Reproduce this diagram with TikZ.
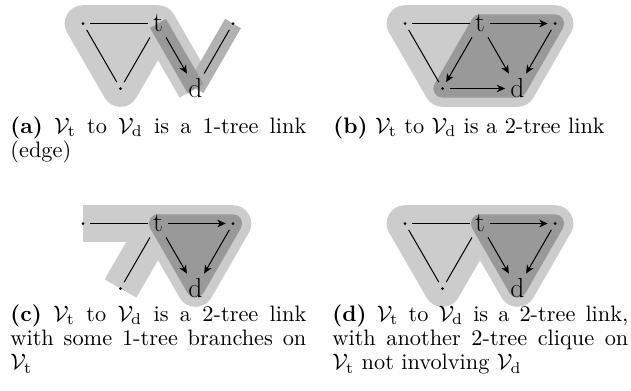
\documentclass[tikz,border=0pt]{standalone}
\usepackage{amsmath,amssymb}
\usepackage{tikz}
\usetikzlibrary{arrows.meta,backgrounds}

\tikzset{
  vdot/.style={circle, inner sep=0pt, minimum size=8.4pt,
    path picture={\fill (path picture bounding box.center) circle (0.9pt);}},
  vname/.style={inner sep=3pt, font=\fontsize{16.5}{20}\selectfont},
  undir/.style={draw, line width=0.6pt},
  dir/.style={undir, -{Stealth[length=5pt,width=4.5pt,inset=1.5pt]}},
  hull/.style={fill=black!20, draw=black!20, line width=22pt, line join=round},
  core/.style={fill=black!40, draw=black!40, line width=11pt, line join=round},
  band/.style={draw=black!20, line width=22pt},
  link/.style={draw=black!40, line width=11pt},
  branch/.style={draw=black!30, line width=11pt},
  capt/.style={anchor=base west, inner sep=0pt, scale=1.34, transform shape,
    text width=132.5pt, align=justify, font=\fontsize{10}{10.8}\selectfont}
}

\begin{document}
\begin{tikzpicture}[x=0.6pt, y=-0.6pt]
    \useasboundingbox (0,0) rectangle (631,390);

    % (a) 1-tree link
    \node [vdot] (a-l) at (83,23.5) {};
    \node [vname] (a-t) at (158,23.5) {t};
    \node [vdot] (a-r) at (233,23.5) {};
    \node [vdot] (a-b) at (120.5,88.5) {};
    \node [vname] (a-d) at (195.5,88.5) {d};
    \begin{scope}[on background layer]
        \path [hull] (a-l.center) -- (a-t.center) -- (a-b.center) -- cycle;
        \draw [band] (a-t.center) -- (a-d.center);
        \draw [branch] (a-d.center) -- (a-r.center);
        \draw [link] (a-t.center) -- (a-d.center);
    \end{scope}
    \draw [undir] (a-l) -- (a-t);
    \draw [undir] (a-l) -- (a-b);
    \draw [undir] (a-t) -- (a-b);
    \draw [dir] (a-t) -- (a-d);
    \draw [undir] (a-r) -- (a-d);
    \node [capt] (cap-a) at (10,133) {\textbf{(a)} $\mathcal{V}_\mathrm{t}$ to $\mathcal{V}_\mathrm{d}$ is a 1-tree link (edge)};

    % (b) 2-tree link
    \node [vdot] (b-l) at (405,23.5) {};
    \node [vname] (b-t) at (480,23.5) {t};
    \node [vdot] (b-r) at (555,23.5) {};
    \node [vdot] (b-b) at (442.5,88.5) {};
    \node [vname] (b-d) at (517.5,88.5) {d};
    \begin{scope}[on background layer]
        \path [hull] (b-l.center) -- (b-r.center) -- (b-d.center) -- (b-b.center) -- cycle;
        \path [core] (b-t.center) -- (b-r.center) -- (b-d.center) -- (b-b.center) -- cycle;
    \end{scope}
    \draw [undir] (b-l) -- (b-t);
    \draw [undir] (b-l) -- (b-b);
    \draw [dir] (b-t) -- (b-r);
    \draw [dir] (b-t) -- (b-b);
    \draw [dir] (b-t) -- (b-d);
    \draw [dir] (b-r) -- (b-d);
    \draw [dir] (b-b) -- (b-d);
    \node [capt] (cap-b) at (333,133) {\textbf{(b)} $\mathcal{V}_\mathrm{t}$ to $\mathcal{V}_\mathrm{d}$ is a 2-tree link};

    % (c) 2-tree link with 1-tree branches
    \node [vdot] (c-l) at (83,223.5) {};
    \node [vname] (c-t) at (158,223.5) {t};
    \node [vdot] (c-r) at (233,223.5) {};
    \node [vdot] (c-b) at (120.5,288.5) {};
    \node [vname] (c-d) at (195.5,288.5) {d};
    \begin{scope}[on background layer]
        \draw [band] (c-l.center) -- (c-t.center);
        \draw [band] (c-b.center) -- (c-t.center);
        \path [hull] (c-t.center) -- (c-r.center) -- (c-d.center) -- cycle;
        \path [core] (c-t.center) -- (c-r.center) -- (c-d.center) -- cycle;
    \end{scope}
    \draw [undir] (c-l) -- (c-t);
    \draw [undir] (c-b) -- (c-t);
    \draw [dir] (c-t) -- (c-r);
    \draw [dir] (c-t) -- (c-d);
    \draw [dir] (c-r) -- (c-d);
    \node [capt] (cap-c) at (10,321.5) {\textbf{(c)} $\mathcal{V}_\mathrm{t}$ to $\mathcal{V}_\mathrm{d}$ is a 2-tree link\linebreak{} with some 1-tree branches on\linebreak{} $\mathcal{V}_\mathrm{t}$};

    % (d) 2-tree link plus another clique
    \node [vdot] (d-l) at (405,223.5) {};
    \node [vname] (d-t) at (480,223.5) {t};
    \node [vdot] (d-r) at (555,223.5) {};
    \node [vdot] (d-b) at (442.5,288.5) {};
    \node [vname] (d-d) at (517.5,288.5) {d};
    \begin{scope}[on background layer]
        \path [hull] (d-l.center) -- (d-t.center) -- (d-b.center) -- cycle;
        \path [hull] (d-t.center) -- (d-r.center) -- (d-d.center) -- cycle;
        \path [core] (d-t.center) -- (d-r.center) -- (d-d.center) -- cycle;
    \end{scope}
    \draw [undir] (d-l) -- (d-t);
    \draw [undir] (d-l) -- (d-b);
    \draw [undir] (d-t) -- (d-b);
    \draw [dir] (d-t) -- (d-r);
    \draw [dir] (d-t) -- (d-d);
    \draw [dir] (d-r) -- (d-d);
    \node [capt] (cap-d) at (332,321.5) {\textbf{(d)} $\mathcal{V}_\mathrm{t}$ to $\mathcal{V}_\mathrm{d}$ is a 2-tree link,\linebreak{} with another 2-tree clique on\linebreak{} $\mathcal{V}_\mathrm{t}$ not involving $\mathcal{V}_\mathrm{d}$};

\end{tikzpicture}
\end{document}
